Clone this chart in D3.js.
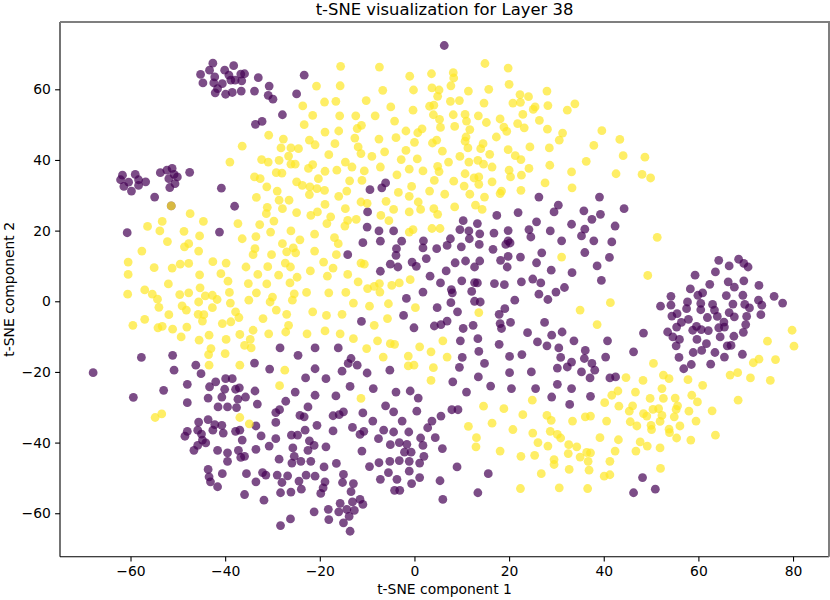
<!DOCTYPE html>
<html>
<head>
<meta charset="utf-8">
<script src="https://cdn.jsdelivr.net/npm/d3@7"></script>
<style>
  body { margin: 0; background: #fff; }
  text { font-family: "DejaVu Sans", sans-serif; fill: #000; }
</style>
</head>
<body>
<div id="chart"></div>
<script>
// t-SNE points, in data units [component 1, component 2]
const purplePts = [
  [-42.6,67.4],[-45.2,64.2],[-43.3,65.4],[-40.1,65.4],[-38.2,66.7],[-42.2,63.5],[-39.2,64.0],[-36.7,64.3],[-35.9,64.4],[-44.7,61.8],
  [-42.4,61.8],[-40.6,61.6],[-38.8,62.6],[-36.5,62.4],[-37.9,62.6],[-33.0,63.3],[-41.6,60.2],[-42.1,59.0],[-39.9,58.6],[-38.5,59.1],
  [-36.6,59.5],[-33.8,59.5],[-30.7,60.9],[-30.9,58.3],[-29.9,57.2],[-24.9,58.7],[-23.3,64.0],[-27.9,52.8],[-33.6,50.1],[-32.2,50.9],
  [-61.7,35.7],[-62.1,34.4],[-60.4,33.7],[-61.4,32.5],[-59.8,31.2],[-59.0,35.9],[-58.3,34.4],[-58.3,32.8],[-56.8,33.8],[-53.7,36.4],
  [-52.3,37.1],[-51.2,37.6],[-50.8,35.9],[-51.9,34.7],[-50.1,35.2],[-50.6,33.3],[-51.7,32.2],[-47.5,36.5],[-40.8,32.0],[-54.9,29.5],
  [6.3,72.4],[-9.4,31.6],[-6.9,32.1],[-6.1,33.5],[26.3,29.5],[39.1,29.5],
  [-38.0,26.9],[-60.7,19.4],[-41.2,19.6],[-28.4,-13.2],[-24.6,-15.3],[-21.0,-13.2],[-57.7,-15.9],[-51.1,-15.3],[-33.8,-17.5],[-30.6,-19.2],
  [-21.0,-19.1],[-50.8,-19.5],[-46.2,-18.1],[-45.1,-20.5],[-67.9,-20.2],[-23.0,-21.7],[-39.9,-21.9],[-38.5,-21.9],[-51.4,27.0],
  [30.4,27.2],[29.5,25.3],[21.9,25.1],[17.4,24.3],[10.3,22.8],[13.3,22.0],[25.8,22.5],[24.2,20.3],[28.7,19.9],[33.2,21.8],
  [-9.9,25.3],[-10.0,21.0],[-7.5,19.9],[-4.4,19.9],[9.6,20.3],[11.5,19.9],[13.8,19.1],[16.8,19.3],[19.8,20.0],[7.6,17.7],
  [11.6,17.7],[24.6,18.2],[31.1,17.1],[19.8,17.1],[19.3,16.1],[20.2,16.5],[-10.9,16.6],[-7.2,17.0],[-2.7,17.0],[1.9,17.1],
  [1.8,15.1],[-3.8,14.9],[-3.9,13.0],[4.7,14.9],[6.9,15.8],[9.9,15.4],[13.7,16.1],[16.6,14.7],[-14.1,13.2],[2.5,12.1],
  [-5.1,10.5],[-3.5,9.7],[-0.5,11.1],[0.4,9.9],[10.8,11.4],[8.6,10.9],[13.8,11.4],[12.7,9.7],[19.8,12.7],[22.4,12.5],
  [18.2,11.6],[25.8,10.9],[26.9,13.7],[19.6,9.7],[28.9,8.8],[33.3,8.1],[-7.2,8.5],[6.7,8.6],[3.3,7.1],[10.0,5.8],
  [12.7,5.3],[13.3,5.2],[16.9,5.0],[19.0,4.7],[22.6,5.5],[25.0,6.3],[26.7,5.2],[5.5,5.2],[7.8,3.3],[8.0,2.4],
  [12.1,2.8],[1.8,2.6],[-1.7,0.8],[12.7,0.0],[13.9,-0.2],[7.7,-0.4],[21.2,0.3],[26.3,2.0],[28.2,0.5],[29.9,2.6],
  [31.7,3.9],[4.8,-1.8],[9.1,-3.0],[19.1,-2.1],[17.9,-3.7],[-2.3,-4.0],[-11.2,-5.7],[6.9,-5.6],[5.6,-6.6],[4.2,-7.0],
  [-0.1,-7.5],[10.3,-7.7],[12.4,-6.8],[18.1,-6.3],[20.3,-6.0],[18.4,-7.7],[27.5,-6.0],[23.9,-8.9],[29.0,-9.6],[31.2,-8.7],
  [9.7,-11.2],[13.4,-10.6],[17.9,-12.2],[26.0,-11.5],[28.0,-12.6],[30.5,-13.2],[33.7,-11.2],[-16.1,-13.2],[-13.4,-16.2],[-14.0,-17.6],
  [-12.1,-18.1],[10.1,-15.9],[13.6,-14.2],[20.1,-15.6],[22.7,-15.1],[30.9,-15.9],[14.8,-17.6],[9.5,-18.7],[24.7,-20.0],[30.2,-18.9],
  [32.3,-18.6],[33.2,-17.2],[-15.3,-19.8],[-10.0,-20.3],[-5.2,-19.5],[20.1,-20.2],[13.5,-21.4],[-18.7,-21.9],
  [35.8,25.6],[39.3,24.6],[37.5,23.2],[44.3,26.2],[36.0,20.4],[35.3,18.5],[42.4,21.3],[37.9,17.1],[41.7,16.8],[36.0,13.8],
  [41.2,12.4],[38.6,10.0],[39.5,5.9],[64.3,11.6],[68.5,11.9],[69.6,10.7],[70.5,9.7],[66.5,10.0],[63.6,8.3],[59.3,7.4],
  [62.4,4.8],[66.3,5.5],[67.6,4.0],[69.6,5.8],[72.8,4.5],[58.3,3.5],[59.9,1.7],[60.9,2.4],[65.9,1.6],[69.4,1.7],
  [76.0,1.4],[77.8,-0.5],[72.7,0.3],[73.4,-1.1],[70.8,-1.9],[69.8,-0.9],[67.3,-0.8],[63.0,-0.9],[63.4,-2.5],[60.5,-0.6],
  [60.5,-2.4],[57.7,-0.2],[57.5,-2.1],[54.2,1.4],[54.2,-1.1],[52.0,-1.4],[54.4,-4.2],[55.5,-3.5],[57.9,-5.1],[56.4,-6.0],
  [55.4,-7.3],[61.9,-4.6],[64.0,-4.3],[66.5,-3.2],[67.6,-4.4],[70.2,-4.3],[73.2,-3.8],[70.0,-6.6],[65.4,-5.9],[65.5,-7.3],
  [59.6,-7.1],[60.6,-8.0],[58.8,-8.2],[62.1,-8.3],[64.3,-7.5],[64.6,-10.1],[67.5,-9.9],[69.5,-8.8],[53.5,-8.7],[54.6,-10.1],
  [59.7,-10.8],[56.0,-10.8],[55.3,-12.6],[61.7,-12.0],[66.1,-12.6],[66.9,-12.5],[55.9,-15.9],[58.9,-14.5],[60.7,-13.9],[63.5,-14.5],
  [65.5,-15.8],[69.3,-15.0],[56.9,-19.1],[58.5,-17.9],[62.6,-17.8],[48.4,-9.0],[46.3,-14.3],[40.8,-11.2],[36.1,-13.9],[40.4,-15.8],
  [35.9,-16.2],[37.5,-17.6],[38.1,-19.5],[35.3,-20.0],[41.3,-21.7],[42.5,-21.4],[37.1,-21.7],
  [-59.4,-27.2],[-53.0,-25.2],[-48.0,-23.5],[-48.0,-28.7],[-43.3,-24.2],[-43.6,-27.4],[-42.0,-22.8],[-40.1,-24.9],[-40.7,-27.1],[-37.8,-24.9],
  [-37.0,-24.5],[-35.7,-27.1],[-33.7,-25.4],[-37.3,-27.7],[-41.5,-29.9],[-39.5,-29.9],[-37.6,-30.1],[-33.2,-29.1],[-45.6,-34.2],[-43.6,-33.5],
  [-42.2,-34.9],[-40.7,-35.1],[-48.0,-36.8],[-48.5,-38.2],[-45.8,-36.5],[-45.0,-37.6],[-44.8,-39.3],[-44.1,-40.1],[-45.8,-40.8],[-46.6,-42.2],
  [-42.6,-36.5],[-40.4,-37.3],[-37.8,-36.8],[-36.9,-36.5],[-36.4,-39.3],[-32.4,-38.1],[-33.5,-35.3],[-29.3,-34.3],[-29.3,-31.5],[-28.5,-30.7],
  [-27.2,-28.3],[-25.2,-25.7],[-21.0,-26.6],[-22.5,-29.9],[-24.2,-32.3],[-23.3,-32.7],[-20.6,-35.1],[-23.1,-36.5],[-26.0,-37.9],[-24.7,-37.9],
  [-22.2,-39.5],[-30.7,-41.0],[-33.5,-41.9],[-37.2,-42.2],[-41.6,-42.2],[-39.5,-42.9],[-39.5,-45.3],[-36.7,-44.2],[-35.9,-43.9],[-29.3,-38.9],
  [-28.6,-44.7],[-25.7,-41.5],[-25.4,-43.9],[-25.9,-45.8],[-24.0,-45.3],[-22.5,-42.2],[-21.9,-45.3],[-43.6,-47.6],[-43.4,-49.7],[-43.1,-51.1],
  [-41.6,-52.5],[-40.6,-48.8],[-35.5,-48.8],[-32.1,-48.5],[-31.4,-49.2],[-33.5,-51.1],[-29.0,-49.2],[-26.8,-49.4],[-28.0,-51.3],[-24.4,-50.9],
  [-23.9,-53.2],[-22.9,-49.2],[-21.0,-49.5],[-35.9,-54.7],[-31.8,-56.3],[-28.3,-54.2],[-26.1,-54.0],[-21.2,-59.6],[-26.2,-61.6],[-28.3,-63.5],
  [-16.6,-26.8],[-13.6,-24.1],[-8.7,-24.7],[-3.9,-25.7],[-0.9,-25.4],[0.8,-27.4],[-6.1,-29.6],[-4.4,-31.3],[0.5,-31.1],[-2.6,-33.9],
  [-8.8,-33.9],[-10.9,-31.6],[-15.0,-31.3],[-17.2,-32.4],[-15.9,-32.1],[-17.2,-36.7],[-13.1,-35.7],[-11.5,-37.7],[-10.7,-36.8],[-7.6,-38.9],
  [-6.5,-36.5],[-4.4,-37.0],[-1.2,-37.0],[-5.1,-40.6],[-3.2,-40.0],[-1.6,-40.5],[-2.1,-42.7],[-0.7,-42.7],[1.3,-38.7],[1.8,-40.8],
  [2.8,-35.8],[3.7,-33.9],[4.4,-38.6],[5.6,-32.5],[5.9,-41.7],[7.9,-30.7],[9.2,-30.7],[11.0,-25.7],[16.1,-24.0],[20.5,-24.7],
  [25.6,-24.7],[29.0,-27.1],[30.2,-23.5],[33.2,-24.7],[8.1,-22.8],[-21.2,-40.8],[-18.7,-41.2],[-11.1,-42.4],[-7.5,-45.7],[-9.5,-46.8],
  [-5.2,-45.3],[-3.2,-45.1],[-1.1,-45.3],[1.1,-45.8],[2.0,-43.9],[-16.5,-45.9],[-19.1,-46.9],[-15.0,-49.0],[-18.9,-51.1],[-15.2,-51.3],
  [-12.9,-51.6],[-19.3,-52.8],[-19.8,-54.4],[-13.4,-53.9],[-7.2,-50.4],[-5.5,-48.5],[-3.7,-50.4],[-1.1,-48.1],[-0.6,-51.6],[1.1,-49.9],
  [5.4,-50.8],[9.0,-46.9],[15.6,-48.8],[13.4,-54.2],[6.0,-56.1],[-4.2,-53.5],[-3.1,-53.5],[-18.2,-58.9],[-18.1,-61.8],[-15.7,-57.2],
  [-16.0,-59.6],[-14.3,-58.9],[-12.7,-59.2],[-11.5,-56.1],[-10.9,-57.5],[-13.1,-56.8],[-15.0,-62.7],[-13.8,-60.9],[-13.6,-65.1],
  [37.2,-26.9],[32.8,-29.2],[48.2,-49.9],[46.3,-54.2],[50.9,-53.2]
];

const yellowPts = [
  [-20.7,60.9],[-23.6,55.3],[-21.5,52.6],[-23.3,50.0],[-30.8,47.0],[-27.7,45.9],[-22.2,45.6],[-21.0,44.3],[-28.2,43.4],[-26.1,43.4],
  [-24.5,43.2],[-26.6,41.1],[-36.4,43.9],[-39.0,39.4],[-32.3,40.1],[-30.9,39.4],[-28.6,39.9],[-26.1,38.8],[-25.2,38.8],[-22.4,37.6],
  [-21.5,38.7],[-33.8,35.2],[-32.6,34.7],[-29.2,36.4],[-28.0,36.3],[-24.9,33.8],[-23.7,32.8],[-22.1,32.4],[-20.6,31.9],[-31.2,32.4],
  [-29.0,31.2],[-22.2,30.2],[-33.4,29.4],[-26.5,28.6],
  [-15.6,66.5],[-7.4,66.3],[14.9,67.3],[19.8,66.0],[-15.7,61.0],[-1.0,63.7],[3.6,64.4],[8.2,64.7],[8.3,63.2],[7.7,61.0],
  [20.0,61.4],[-6.7,59.7],[-0.2,59.8],[3.7,60.4],[5.2,59.8],[4.9,58.0],[11.4,59.5],[15.7,60.0],[22.3,58.5],[24.1,57.9],
  [28.0,59.5],[-19.0,56.4],[-16.6,56.6],[-10.2,56.8],[-5.0,55.0],[-0.3,54.1],[3.2,55.2],[4.1,55.5],[7.6,56.6],[9.5,56.8],
  [14.7,56.1],[20.8,56.1],[22.4,56.3],[25.1,54.3],[25.5,55.0],[28.2,55.4],[32.3,54.1],[33.9,55.9],[-15.8,52.5],[-12.4,52.5],
  [-8.3,52.5],[4.0,52.8],[5.3,51.5],[8.2,52.8],[10.7,52.9],[13.5,52.5],[18.1,51.6],[22.9,52.9],[26.4,51.2],[-4.2,51.0],
  [-11.2,49.8],[-12.1,48.9],[-1.8,48.2],[0.7,47.7],[1.6,48.8],[5.5,49.2],[8.5,49.5],[11.0,51.0],[11.7,48.6],[15.2,50.6],
  [18.9,49.3],[19.5,48.1],[21.8,50.3],[23.2,49.1],[28.1,48.7],[31.3,47.6],[-18.9,47.9],[-16.0,48.2],[-12.6,46.2],[-7.5,45.9],
  [-3.9,46.3],[0.0,45.0],[3.8,44.8],[4.7,45.6],[10.9,46.5],[10.7,45.3],[11.3,43.4],[14.0,43.2],[14.5,44.6],[17.3,46.5],
  [19.8,42.9],[21.3,41.2],[22.5,40.1],[24.4,43.7],[28.5,43.4],[30.6,45.6],[-16.8,44.6],[-11.9,43.7],[-18.1,41.5],[-11.3,41.8],
  [-9.0,41.0],[-6.3,42.3],[-1.8,42.7],[-2.8,40.1],[0.6,40.3],[5.9,42.5],[9.6,41.0],[11.5,39.4],[13.4,39.9],[14.6,38.8],
  [15.9,41.6],[16.4,38.0],[20.0,37.1],[20.3,35.2],[22.6,35.7],[24.2,37.6],[28.6,38.5],[33.2,36.6],[-14.6,39.4],[-13.2,38.0],
  [-18.9,36.8],[-16.4,37.1],[-10.6,36.9],[-7.2,38.0],[-3.7,35.8],[-1.1,37.4],[1.8,36.9],[4.9,38.2],[5.2,36.7],[7.2,39.4],
  [10.7,36.1],[12.6,34.9],[13.6,35.2],[13.6,33.1],[16.4,33.8],[18.4,31.2],[18.1,30.5],[22.5,31.4],[27.6,33.5],[33.3,32.1],
  [-20.3,34.7],[-13.7,34.1],[-11.1,34.2],[-19.0,31.4],[-14.3,31.2],[-16.0,29.7],[-3.4,30.8],[-0.6,32.5],[-1.1,29.7],[3.2,31.2],
  [4.2,34.2],[6.4,30.3],[8.3,34.0],[10.5,32.6],[11.7,30.3],[14.8,29.5],
  [39.6,48.3],[43.4,45.8],[37.9,44.1],[44.1,41.2],[48.7,40.8],[36.3,39.6],[42.6,36.1],[48.1,35.9],[49.9,34.9],
  [-31.1,26.6],[-28.6,28.6],[-27.9,26.2],[-24.9,25.1],[-21.9,24.3],[-20.5,25.3],[-31.3,24.8],[-29.7,22.7],[-32.7,21.7],[-37.3,22.0],
  [-44.6,22.6],[-47.4,24.8],[-53.3,22.6],[-56.4,21.2],[-53.8,19.9],[-48.7,19.8],[-45.4,18.5],[-52.2,16.9],[-48.6,15.4],[-47.7,16.3],
  [-45.6,14.2],[-36.4,17.7],[-33.5,18.3],[-30.4,19.6],[-26.1,19.9],[-24.2,17.4],[-21.1,19.0],[-27.9,16.3],[-33.7,14.9],[-34.1,13.2],
  [-30.2,13.2],[-27.0,14.0],[-25.6,15.1],[-25.1,13.7],[-21.1,14.2],[-57.6,14.2],[-60.5,11.1],[-55.0,9.5],[-51.2,9.4],[-49.5,10.5],
  [-47.7,10.7],[-42.6,11.2],[-39.8,10.8],[-35.6,9.7],[-31.0,9.8],[-27.3,10.8],[-26.2,9.7],[-22.0,8.6],[-60.5,7.6],[-45.4,7.5],
  [-40.9,7.8],[-39.4,5.7],[-35.1,5.0],[-33.1,7.6],[-31.2,4.9],[-28.7,7.4],[-26.3,5.2],[-24.8,6.8],[-52.0,4.9],[-45.3,3.8],
  [-57.0,3.2],[-55.4,2.0],[-54.3,0.6],[-60.6,2.0],[-49.6,1.9],[-47.7,2.4],[-44.2,1.5],[-42.7,1.7],[-41.7,0.5],[-39.1,2.5],
  [-45.6,-0.2],[-42.7,-1.8],[-38.9,-0.5],[-35.0,0.3],[-33.4,2.4],[-30.5,-0.2],[-30.0,1.2],[-25.4,2.1],[-25.8,0.3],[-22.8,2.5],
  [-49.1,-1.3],[-48.2,-2.5],[-54.0,-1.7],[-51.9,-3.8],[-45.7,-3.7],[-44.5,-3.8],[-44.8,-5.6],[-40.6,-6.3],[-38.8,-5.8],[-37.8,-3.0],
  [-37.1,-4.6],[-32.0,-4.9],[-29.2,-2.5],[-27.0,-3.7],[-26.6,-6.8],[-27.2,-8.7],[-21.5,-3.0],[-57.0,-5.1],[-59.5,-6.8],[-54.2,-7.5],
  [-53.3,-7.1],[-51.1,-7.9],[-48.1,-7.3],[-49.3,-10.1],[-45.5,-11.0],[-43.4,-9.6],[-39.8,-10.8],[-36.9,-9.4],[-34.1,-8.2],[-34.7,-10.8],
  [-34.5,-13.2],[-35.9,-12.5],[-30.8,-9.2],[-22.7,-9.2],[-43.0,-13.4],[-43.5,-15.1],[-40.0,-14.8],[-43.4,-18.1],[-36.9,-18.1],[-27.4,-19.5],
  [-51.4,27.0],
  [-18.9,27.4],[-14.6,26.2],[-11.3,28.1],[-10.0,27.7],[-6.0,28.3],[-4.4,26.0],[-1.1,25.3],[0.8,28.1],[1.3,26.0],[4.1,26.2],
  [4.9,24.6],[8.5,26.7],[12.9,27.2],[14.3,26.0],[-17.7,23.9],[-18.5,22.0],[-14.1,22.9],[-12.3,23.2],[-14.7,21.3],[-7.1,24.3],
  [-5.4,22.8],[-1.1,19.6],[-0.3,20.3],[3.7,20.6],[5.4,20.6],[-16.9,18.0],[-16.1,16.3],[-16.5,13.2],[-11.3,10.8],[-10.6,10.5],
  [-19.2,11.1],[-17.2,9.4],[-18.4,7.1],[-14.1,7.6],[-11.9,5.5],[-9.9,3.6],[-8.5,4.2],[-7.4,5.0],[-7.3,2.6],[-4.8,4.5],
  [-3.2,5.2],[-0.9,6.1],[-18.1,2.4],[-14.5,2.5],[-12.9,-0.5],[-9.5,-1.4],[-5.5,-0.7],[0.2,-1.8],[-18.6,-4.0],[-15.3,-3.7],
  [-8.5,-6.8],[-5.7,-4.9],[-18.9,-8.4],[-15.7,-9.2],[-12.9,-10.6],[-7.8,-11.2],[-5.1,-12.0],[-4.2,-12.2],[-10.1,-13.4],[-6.6,-15.8],
  [-1.3,-15.5],[-0.1,-18.1],[-1.3,-18.3],[1.1,-12.9],[3.5,-14.3],[4.0,-18.8],[6.0,-11.2],[6.9,-15.8],[13.6,-3.2],[31.1,12.5],
  [51.3,18.1],[49.3,7.3],[41.4,-0.4],[35.0,-2.5],[38.6,-6.6],[79.8,-8.2],[74.6,-11.3],[80.2,-12.7],[76.3,-16.5],[72.8,-16.4],
  [71.6,-17.4],[50.5,-17.6],[52.6,-20.9],[53.8,-21.9],[44.7,-21.6],[48.3,-22.4],[57.8,-22.2],[66.7,-20.9],[68.3,-20.2],[71.0,-21.7],
  [75.2,-22.4],
  [-54.8,-32.9],[-53.4,-31.9],[-36.9,-32.9],[-34.9,-34.7],[-28.5,-23.9],
  [3.5,-22.4],[-11.3,-27.5],[14.6,-29.7],[18.9,-30.4],[24.9,-28.0],[22.9,-32.1],[16.4,-34.5],[11.4,-35.4],[13.1,-38.6],[13.0,-41.2],
  [20.8,-36.3],[18.1,-42.4],[25.0,-37.3],[26.1,-40.0],[22.5,-43.9],[25.4,-43.6],[28.2,-41.0],[28.7,-36.8],[28.0,-32.3],[28.9,-33.7],
  [30.2,-37.7],[30.9,-38.7],[32.6,-40.6],[32.5,-43.1],[29.5,-44.8],[29.5,-46.2],[26.8,-48.8],[22.4,-53.0],[30.6,-52.8],[32.7,-47.6],
  [60.9,-23.8],[68.4,-28.0],[43.0,-25.4],[41.7,-26.6],[40.2,-28.7],[43.2,-29.7],[46.7,-25.7],[46.1,-29.6],[45.4,-31.1],[49.8,-27.5],
  [52.6,-27.5],[52.3,-24.7],[55.1,-27.4],[55.6,-29.6],[55.3,-30.6],[58.6,-26.6],[59.8,-28.5],[58.0,-31.1],[50.4,-30.6],[51.6,-30.4],
  [48.4,-31.8],[49.1,-32.5],[52.3,-32.3],[51.9,-34.0],[54.9,-32.7],[59.5,-33.9],[62.9,-31.0],[36.1,-32.7],[37.2,-32.5],[33.4,-33.9],
  [40.6,-33.9],[45.6,-34.1],[47.0,-35.3],[50.0,-35.1],[50.1,-36.3],[53.8,-36.2],[53.9,-37.2],[56.1,-35.3],[55.4,-38.7],[58.4,-39.3],
  [63.6,-37.9],[39.2,-38.6],[43.1,-39.2],[47.7,-39.8],[49.2,-41.0],[51.9,-41.5],[46.8,-42.4],[42.4,-42.4],[34.3,-41.2],[35.0,-44.1],
  [36.4,-42.8],[37.2,-42.9],[36.7,-45.3],[41.3,-45.3],[36.9,-47.8],[40.1,-49.5],[41.3,-49.1],[52.0,-47.3],[36.6,-53.0]
];

const xTicks = [-60, -40, -20, 0, 20, 40, 60, 80];
const yTicks = [-60, -40, -20, 0, 20, 40, 60];
const chartTitle = "t-SNE visualization for Layer 38";
const xLabel = "t-SNE component 1";
const yLabel = "t-SNE component 2";

const width = 830;
const height = 600;
const plot = { left: 60, top: 22, right: 829, bottom: 556.7 };

const svg = d3.select("#chart")
    .append("svg")
    .attr("width", width)
    .attr("height", height);

const x = d3.scaleLinear().domain([-74.9, 87.6]).range([plot.left, plot.right]);
const y = d3.scaleLinear().domain([-72.3, 79.05]).range([plot.bottom, plot.top]);

// points: class 0 in viridis purple, class 1 in viridis yellow
const pointR = 4.4;
function drawPoints(pts, color) {
    svg.append("g")
        .selectAll("circle")
        .data(pts)
        .enter().append("circle")
        .attr("cx", d => x(d[0]))
        .attr("cy", d => y(d[1]))
        .attr("r", pointR)
        .attr("fill", color)
        .attr("fill-opacity", 0.7);
}
drawPoints(purplePts, "#440154");
drawPoints(yellowPts, "#fde725");

// axes
const xAxis = svg.append("g")
    .attr("transform", `translate(0,${plot.bottom})`)
    .call(d3.axisBottom(x).tickValues(xTicks).tickSize(4.9).tickPadding(4.2));
const yAxis = svg.append("g")
    .attr("transform", `translate(${plot.left},0)`)
    .call(d3.axisLeft(y).tickValues(yTicks).tickSize(4.9).tickPadding(4.2));

[xAxis, yAxis].forEach(g => {
    g.select(".domain").remove();
    g.selectAll(".tick line").attr("stroke", "#000").attr("stroke-width", 1.1);
    g.selectAll(".tick text")
        .attr("font-family", "DejaVu Sans, sans-serif")
        .attr("font-size", 13.9)
        .attr("fill", "#000");
});

// spines
svg.append("line").attr("x1", plot.left).attr("x2", plot.left)
    .attr("y1", plot.top).attr("y2", plot.bottom)
    .attr("stroke", "#000").attr("stroke-width", 1.1);
svg.append("line").attr("x1", plot.left).attr("x2", plot.right)
    .attr("y1", plot.bottom).attr("y2", plot.bottom)
    .attr("stroke", "#000").attr("stroke-width", 1.1);
svg.append("line").attr("x1", plot.left).attr("x2", plot.right + 1)
    .attr("y1", plot.top).attr("y2", plot.top)
    .attr("stroke", "#7f7f7f").attr("stroke-width", 2);
svg.append("line").attr("x1", plot.right).attr("x2", plot.right)
    .attr("y1", plot.top).attr("y2", plot.bottom)
    .attr("stroke", "#7f7f7f").attr("stroke-width", 2);

// title and labels
svg.append("text")
    .attr("x", (plot.left + plot.right) / 2)
    .attr("y", 15)
    .attr("text-anchor", "middle")
    .attr("font-size", 16.4)
    .text(chartTitle);

svg.append("text")
    .attr("x", (plot.left + plot.right) / 2)
    .attr("y", 594)
    .attr("text-anchor", "middle")
    .attr("font-size", 13.9)
    .text(xLabel);

svg.append("text")
    .attr("transform", `translate(14,${(plot.top + plot.bottom) / 2}) rotate(-90)`)
    .attr("text-anchor", "middle")
    .attr("font-size", 13.9)
    .text(yLabel);
</script>
</body>
</html>
